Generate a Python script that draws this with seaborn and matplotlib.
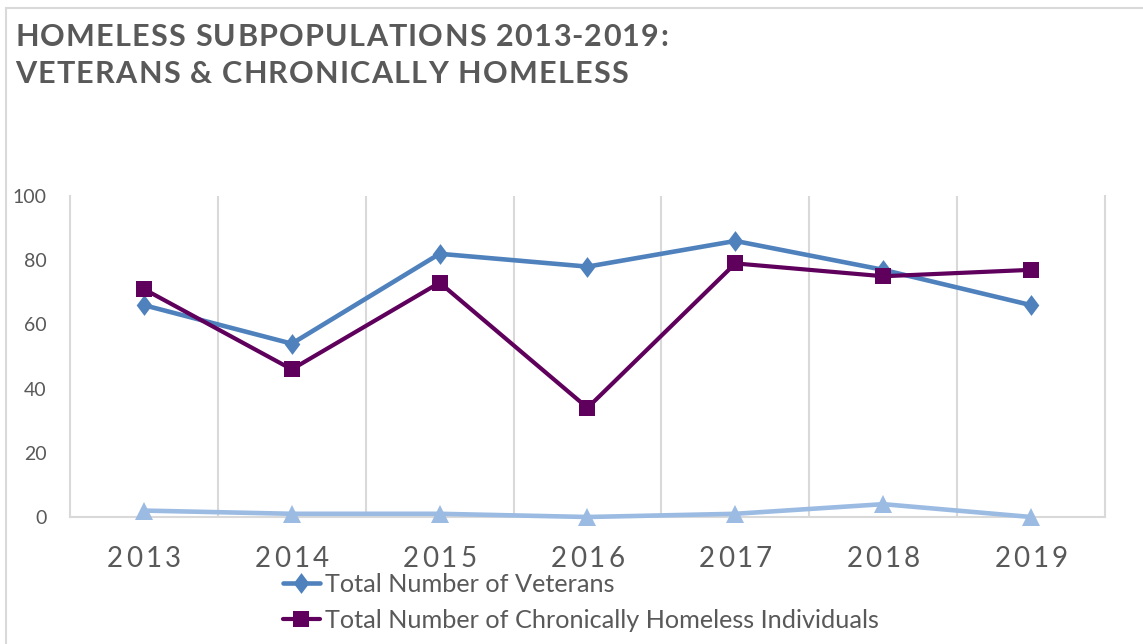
import numpy as np
import pandas as pd
import seaborn as sns
import matplotlib
matplotlib.use("Agg")
import matplotlib.pyplot as plt
from matplotlib import font_manager
from matplotlib.font_manager import FontProperties
from matplotlib.ft2font import FT2Font
from matplotlib.transforms import IdentityTransform
from matplotlib.patches import Rectangle

# ---- data -------------------------------------------------------------
years = ["2013", "2014", "2015", "2016", "2017", "2018", "2019"]
veterans = [66, 54, 82, 78, 86, 77, 66]
chronically_homeless = [71, 46, 73, 34, 79, 75, 77]
other_group = [2, 1, 1, 0, 1, 4, 0]
series_labels = ["Total Number of Veterans",
                 "Total Number of Chronically Homeless Individuals"]
title_lines = ["HOMELESS SUBPOPULATIONS 2013-2019:",
               "VETERANS & CHRONICALLY HOMELESS"]

# ---- style ------------------------------------------------------------
sns.set_theme(style="white")
FONT = "Lato"
plt.rcParams["font.family"] = [FONT, "DejaVu Sans"]
TXT = "#595959"
GRID = "#D9D9D9"
C_VET = "#4F81BD"
C_CHR = "#5F005C"
C_OTH = "#9BBBE3"

W, H, DPI = 1143, 644, 100
fig = plt.figure(figsize=(W / DPI, H / DPI), dpi=DPI)
fig.patch.set_facecolor("white")

# outer chart frame
fig.patches.append(Rectangle((6 / W, -0.2), 1.2, 1.2 - 8 / H,
                             transform=fig.transFigure, fill=False,
                             ec=GRID, lw=1.5))

ax = fig.add_axes([70 / W, 1 - 517 / H, (1105 - 70) / W, (517 - 196) / H])

df = pd.DataFrame({"pos": np.arange(len(years)),
                   "veterans": veterans,
                   "chronic": chronically_homeless,
                   "other": other_group})

diamond = [(0, 1), (0.75, 0), (0, -1), (-0.75, 0), (0, 1)]
sns.lineplot(data=df, x="pos", y="veterans", ax=ax, color=C_VET, lw=3.3,
             marker=diamond, markersize=15, markeredgewidth=0,
             label=series_labels[0], clip_on=False, zorder=3)
sns.lineplot(data=df, x="pos", y="chronic", ax=ax, color=C_CHR, lw=3.0,
             marker="s", markersize=12, markeredgewidth=0,
             label=series_labels[1], clip_on=False, zorder=4)
sns.lineplot(data=df, x="pos", y="other", ax=ax, color=C_OTH, lw=3.3,
             marker="^", markersize=13, markeredgewidth=0, legend=False,
             clip_on=False, zorder=5)

ax.set_xlim(-0.5, len(years) - 0.5)
ax.set_ylim(0, 100)
ax.set_yticks(np.arange(0, 101, 20))
ax.set_xticks(np.arange(len(years)))
ax.set_xticklabels([])
ax.set_xticks(np.arange(0.5, len(years) - 1, 1), minor=True)
ax.grid(False)
ax.grid(which="minor", axis="x", color=GRID, lw=1.5)
ax.tick_params(axis="both", which="both", length=0)
ax.tick_params(axis="y", pad=17, labelsize=14, labelcolor=TXT)
ax.set_xlabel("")
ax.set_ylabel("")
for side in ["left", "right", "bottom"]:
    ax.spines[side].set_color(GRID)
    ax.spines[side].set_linewidth(1.5)
ax.spines["top"].set_visible(False)


def advances(s, prop, size):
    font = FT2Font(font_manager.findfont(prop))
    font.set_size(size, DPI)
    return [font.load_char(ord(c)).linearHoriAdvance / 65536 for c in s]


def spaced_text(x, y_top, s, size, weight="normal", spacing=0.0,
                width=None, ha="left"):
    """Draw letter-spaced text at pixel position (y measured from top)."""
    prop = FontProperties(family=FONT, weight=weight, size=size)
    adv = advances(s, prop, size)
    if width is not None:
        spacing = (width - sum(adv)) / (len(s) - 1)
    total = sum(adv) + spacing * (len(s) - 1)
    cur = x - total / 2 if ha == "center" else x
    for c, a in zip(s, adv):
        fig.text(cur, H - y_top, c, transform=IdentityTransform(),
                 fontproperties=prop, color=TXT, va="baseline", ha="left")
        cur += a + spacing
    return spacing


# title
sp = spaced_text(15, 46, title_lines[0], 22, weight="bold", width=653)
spaced_text(15, 83, title_lines[1], 22, weight="bold", spacing=sp)

# category labels
for i, yr in enumerate(years):
    xd = ax.transData.transform((i, 0))[0]
    spaced_text(xd, 567, yr, 20, spacing=3, ha="center")

# legend
ax.legend(loc="upper left", bbox_to_anchor=(283 / W, 1 - 573 / H),
          bbox_transform=fig.transFigure, frameon=False, fontsize=18.2,
          labelcolor=TXT, handlelength=1.45, handletextpad=0.2,
          labelspacing=0.5, borderpad=0, borderaxespad=0)

fig.savefig("out.png", dpi=DPI)
